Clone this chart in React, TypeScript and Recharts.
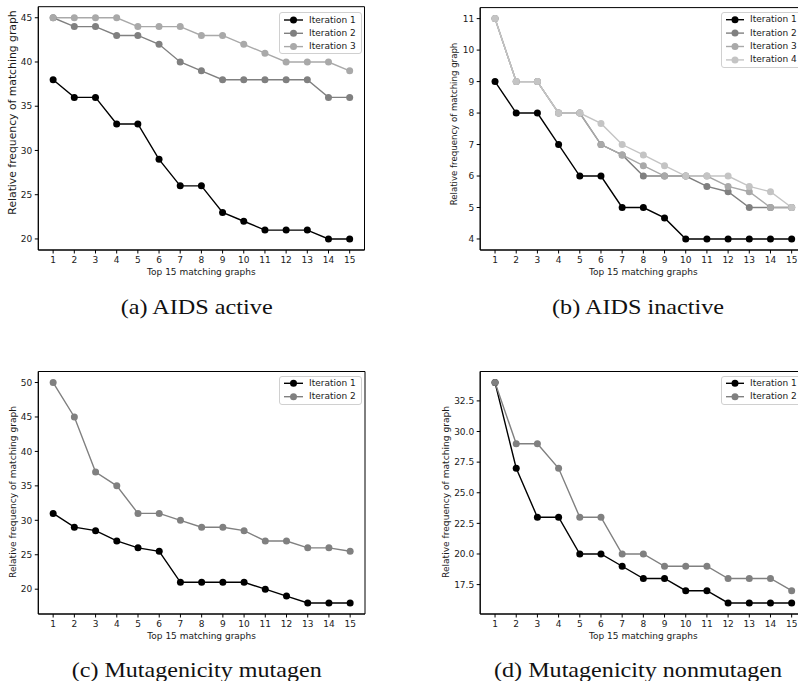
import React from 'react';
import { LineChart, Line, XAxis, YAxis, ReferenceArea, Legend } from 'recharts';

// ---------- data ----------
const xCategories = [1, 2, 3, 4, 5, 6, 7, 8, 9, 10, 11, 12, 13, 14, 15];
const seriesNames = ['Iteration 1', 'Iteration 2', 'Iteration 3', 'Iteration 4'];
const seriesColors = ['#000000', '#808080', '#a9a9a9', '#c4c4c4'];

const aidsActive1 = [38, 36, 36, 33, 33, 29, 26, 26, 23, 22, 21, 21, 21, 20, 20];
const aidsActive2 = [45, 44, 44, 43, 43, 42, 40, 39, 38, 38, 38, 38, 38, 36, 36];
const aidsActive3 = [45, 45, 45, 45, 44, 44, 44, 43, 43, 42, 41, 40, 40, 40, 39];

const aidsInactive1 = [9, 8, 8, 7, 6, 6, 5, 5, 4.67, 4, 4, 4, 4, 4, 4];
const aidsInactive2 = [11, 9, 9, 8, 8, 7, 6.67, 6, 6, 6, 5.67, 5.5, 5, 5, 5];
const aidsInactive3 = [11, 9, 9, 8, 8, 7, 6.67, 6.33, 6, 6, 6, 5.67, 5.5, 5, 5];
const aidsInactive4 = [11, 9, 9, 8, 8, 7.67, 7, 6.67, 6.33, 6, 6, 6, 5.67, 5.5, 5];

const mutagen1 = [31, 29, 28.5, 27, 26, 25.5, 21, 21, 21, 21, 20, 19, 18, 18, 18];
const mutagen2 = [50, 45, 37, 35, 31, 31, 30, 29, 29, 28.5, 27, 27, 26, 26, 25.5];

const nonmutagen1 = [34, 27, 23, 23, 20, 20, 19, 18, 18, 17, 17, 16, 16, 16, 16];
const nonmutagen2 = [34, 29, 29, 27, 23, 23, 20, 20, 19, 19, 19, 18, 18, 18, 17];

const ticksA = [20, 25, 30, 35, 40, 45];
const ticksB = [4, 5, 6, 7, 8, 9, 10, 11];
const ticksC = [20, 25, 30, 35, 40, 45, 50];
const ticksD = [17.5, 20, 22.5, 25, 27.5, 30, 32.5];

const captions = ['(a) AIDS active', '(b) AIDS inactive', '(c) Mutagenicity mutagen', '(d) Mutagenicity nonmutagen'];
const xLabel = 'Top 15 matching graphs';
const yLabel = 'Relative frequency of matching graph';

const buildRows = (series: number[][]) =>
  xCategories.map((x, i) => {
    const row: Record<string, number> = { x };
    series.forEach((s, j) => {
      row['s' + j] = s[i];
    });
    return row;
  });

const FONT = 'DejaVu Sans';
const TICK_COLOR = '#1a1a1a';

type Panel = {
  left: number;
  top: number;
  width: number;
  height: number;
  margin: { top: number; right: number; bottom: number; left: number };
  yWidth: number;
  yDomain: [number, number];
  yTicks: number[];
  fmt?: (v: number) => string;
  series: number[][];
  legend: { left: number; top: number; width: number; height: number; rowTop: number; rowStep: number; lineX0: number; lineX1: number; textX: number };
  yLab: { x: number; y: number; size: number };
};

const panels: Panel[] = [
  {
    left: 0, top: 0, width: 400, height: 340,
    margin: { top: 6.7, right: 35.5, bottom: 71, left: 0 },
    yWidth: 38.3, yDomain: [18.75, 46.25], yTicks: ticksA,
    series: [aidsActive1, aidsActive2, aidsActive3],
    legend: { left: 279, top: 12, width: 83, height: 42, rowTop: 8, rowStep: 13.3, lineX0: 4, lineX1: 23, textX: 30 },
    yLab: { x: 12.5, y: 112.5, size: 10.8 },
  },
  {
    left: 400, top: 0, width: 420, height: 340,
    margin: { top: 7.6, right: 13.5, bottom: 71, left: 0 },
    yWidth: 80.2, yDomain: [3.65, 11.35], yTicks: ticksB,
    series: [aidsInactive1, aidsInactive2, aidsInactive3, aidsInactive4],
    legend: { left: 321, top: 12, width: 84, height: 56, rowTop: 7.7, rowStep: 13.4, lineX0: 4, lineX1: 22, textX: 29 },
    yLab: { x: 54, y: 124, size: 8.6 },
  },
  {
    left: 0, top: 340, width: 400, height: 340,
    margin: { top: 31.5, right: 35, bottom: 47, left: 0 },
    yWidth: 38.3, yDomain: [16.4, 51.6], yTicks: ticksC,
    series: [mutagen1, mutagen2],
    legend: { left: 279, top: 36, width: 83, height: 29, rowTop: 7.3, rowStep: 13.4, lineX0: 4, lineX1: 23, textX: 30 },
    yLab: { x: 12.5, y: 152, size: 9.1 },
  },
  {
    left: 400, top: 340, width: 420, height: 340,
    margin: { top: 31.5, right: 13.5, bottom: 47, left: 0 },
    yWidth: 80.2, yDomain: [15.1, 34.9], yTicks: ticksD, fmt: (v: number) => v.toFixed(1),
    series: [nonmutagen1, nonmutagen2],
    legend: { left: 321, top: 36, width: 84, height: 29, rowTop: 7.3, rowStep: 13.4, lineX0: 4, lineX1: 22, textX: 29 },
    yLab: { x: 45.7, y: 152, size: 9.1 },
  },
];

const captionPos = [
  { x: 196.7, y: 314, len: 152 },
  { x: 638, y: 314, len: 172 },
  { x: 196.7, y: 677, len: 250 },
  { x: 638, y: 677, len: 288 },
];

function PanelChart({ p }: { p: Panel }) {
  const rows = buildRows(p.series);
  const lg = p.legend;
  const legendContent = () => (
    <div
      style={{
        position: 'relative',
        width: lg.width,
        height: lg.height,
        boxSizing: 'border-box',
        border: '1px solid #d0d0d0',
        borderRadius: 3,
        background: 'rgba(255,255,255,0.85)',
        fontFamily: FONT,
        fontSize: 9,
        color: TICK_COLOR,
      }}
    >
      {p.series.map((_, j) => {
        const cy = lg.rowTop + j * lg.rowStep;
        return (
          <div key={j}>
            <svg style={{ position: 'absolute', left: 0, top: 0, overflow: 'visible' }} width={lg.width} height={lg.height}>
              <line x1={lg.lineX0} x2={lg.lineX1} y1={cy - 1} y2={cy - 1} stroke={seriesColors[j]} strokeWidth={1.4} />
              <circle cx={(lg.lineX0 + lg.lineX1) / 2} cy={cy - 1} r={3.5} fill={seriesColors[j]} />
            </svg>
            <span style={{ position: 'absolute', left: lg.textX - 1, top: cy - 7.5, lineHeight: '12px', whiteSpace: 'nowrap' }}>
              {seriesNames[j]}
            </span>
          </div>
        );
      })}
    </div>
  );

  const yLabelContent = () => (
    <text
      x={0}
      y={0}
      transform={`translate(${p.yLab.x},${p.yLab.y}) rotate(-90)`}
      textAnchor="middle"
      dominantBaseline="central"
      fontFamily={FONT}
      fontSize={p.yLab.size}
      fill={TICK_COLOR}
    >
      {yLabel}
    </text>
  );

  return (
    <div style={{ position: 'absolute', left: p.left, top: p.top }}>
      <LineChart width={p.width} height={p.height} data={rows} margin={p.margin}>
        <XAxis
          dataKey="x"
          type="number"
          domain={[0.3, 15.7]}
          ticks={xCategories}
          interval={0}
          allowDataOverflow
          height={19}
          tickSize={3.5}
          tickMargin={3}
          stroke="#000"
          tick={{ fontSize: 9, fill: TICK_COLOR, fontFamily: FONT }}
          label={{ value: xLabel, position: 'bottom', offset: 0, fontSize: 9, fill: TICK_COLOR, fontFamily: FONT }}
        />
        <YAxis
          type="number"
          domain={p.yDomain}
          ticks={p.yTicks}
          interval={0}
          allowDataOverflow
          width={p.yWidth}
          tickSize={3.5}
          tickMargin={2.5}
          stroke="#000"
          tickFormatter={p.fmt}
          tick={{ fontSize: 9, fill: TICK_COLOR, fontFamily: FONT }}
          label={{ content: yLabelContent }}
        />
        <ReferenceArea
          x1={0.3}
          x2={15.7}
          y1={p.yDomain[0]}
          y2={p.yDomain[1]}
          fill="none"
          fillOpacity={0}
          stroke="#000"
          strokeWidth={1}
          ifOverflow="visible"
        />
        {p.series.map((_, j) => (
          <Line
            key={j}
            type="linear"
            dataKey={'s' + j}
            name={seriesNames[j]}
            stroke={seriesColors[j]}
            strokeWidth={1.4}
            dot={{ r: 3.5, fill: seriesColors[j], stroke: seriesColors[j], strokeWidth: 0 }}
            activeDot={false}
            isAnimationActive={false}
          />
        ))}
        <Legend
          layout="vertical"
          align="center"
          verticalAlign="middle"
          content={legendContent}
          wrapperStyle={{ left: lg.left, top: lg.top, width: lg.width, height: lg.height }}
        />
      </LineChart>
    </div>
  );
}

export default function App() {
  return (
    <div style={{ position: 'fixed', left: 0, top: 0, width: 798, height: 681, overflow: 'hidden', background: '#fff' }}>
      {panels.map((p, i) => (
        <PanelChart key={i} p={p} />
      ))}
      <svg style={{ position: 'absolute', left: 0, top: 0, pointerEvents: 'none' }} width={798} height={681}>
        {captions.map((c, i) => (
          <text
            key={i}
            x={captionPos[i].x}
            y={captionPos[i].y}
            textAnchor="middle"
            fontFamily="Liberation Serif"
            fontSize={22}
            fill="#111"
            textLength={captionPos[i].len}
            lengthAdjust="spacingAndGlyphs"
          >
            {c}
          </text>
        ))}
      </svg>
    </div>
  );
}
